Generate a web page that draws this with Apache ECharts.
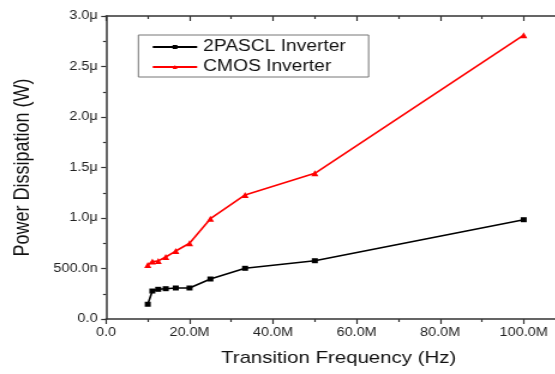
<!DOCTYPE html>
<html>
<head>
<meta charset="utf-8">
<script src="https://cdn.jsdelivr.net/npm/echarts@6/dist/echarts.min.js"></script>
<style>
html, body { margin: 0; padding: 0; width: 555px; height: 374px; overflow: hidden; background: #fff; }
#chart { width: 506px; height: 374px; transform: scaleX(1.2); transform-origin: 0 0; }
</style>
</head>
<body>
<div id="chart"></div>
<script>
// Transition frequency in MHz
const freqMHz = [10, 11.1, 12.5, 14.3, 16.7, 20, 25, 33.3, 50, 100];
// Power dissipation in microwatts
const pasclPower = [0.146, 0.277, 0.294, 0.300, 0.307, 0.307, 0.396, 0.502, 0.577, 0.983];
const cmosPower = [0.535, 0.570, 0.575, 0.614, 0.673, 0.750, 0.993, 1.228, 1.443, 2.81];
const seriesNames = ['2PASCL Inverter', 'CMOS Inverter'];
const xTitle = 'Transition Frequency (Hz)';
const yTitle = 'Power Dissipation (W)';

const font = 'Liberation Sans, Arial, sans-serif';
const axisColor = '#333';

function fmtX(v) { return v === 0 ? '0.0' : v.toFixed(1) + 'M'; }
function fmtY(v) {
  if (v === 0) return '0.0';
  if (v < 1) return (v * 1000).toFixed(1) + 'n';
  return v.toFixed(1) + 'μ';
}

const chart = echarts.init(document.getElementById('chart'));
chart.setOption({
  animation: false,
  backgroundColor: '#fff',
  grid: { left: 88.3, right: 0, top: 16, bottom: 55 },
  legend: {
    orient: 'vertical',
    left: 115.3,
    top: 35,
    padding: [2, 19, 0, 11],
    itemWidth: 37,
    itemHeight: 5,
    itemGap: 0,
    borderColor: '#777',
    borderWidth: 1,
    textStyle: { fontFamily: font, fontSize: 16, color: '#111', lineHeight: 20 },
    data: seriesNames
  },
  xAxis: [{
    type: 'value', min: 0, max: 120, interval: 20,
    name: xTitle, nameLocation: 'middle', nameGap: 31,
    nameTextStyle: { fontFamily: font, fontSize: 17, color: '#111', padding: [0, 30, 0, 0] },
    axisLine: { show: true, onZero: false, lineStyle: { color: axisColor, width: 1.5 } },
    axisTick: { show: true, length: 5, lineStyle: { color: axisColor, width: 1.2 } },
    minorTick: { show: true, splitNumber: 2, length: 3, lineStyle: { color: axisColor, width: 1.2 } },
    splitLine: { show: false },
    axisLabel: { fontFamily: font, fontSize: 12, color: '#222', margin: 8, formatter: fmtX, showMaxLabel: false }
  }, {
    type: 'value', min: 0, max: 120, interval: 20, position: 'top',
    axisLine: { show: true, onZero: false, lineStyle: { color: axisColor, width: 1.5 } },
    axisTick: { show: true, inside: true, length: 5, lineStyle: { color: axisColor, width: 1.2 } },
    minorTick: { show: true, splitNumber: 2, length: 3, lineStyle: { color: axisColor, width: 1.2 } },
    splitLine: { show: false },
    axisLabel: { show: false }
  }],
  yAxis: {
    type: 'value', min: 0, max: 3, interval: 0.5,
    name: yTitle, nameLocation: 'middle', nameGap: 60, nameRotate: 90,
    nameTextStyle: { fontFamily: font, fontSize: 18, color: '#111' },
    axisLine: { show: true, onZero: false, lineStyle: { color: axisColor, width: 1.5 } },
    axisTick: { show: true, length: 4, lineStyle: { color: axisColor, width: 1.2 } },
    minorTick: { show: true, splitNumber: 2, length: 2.5, lineStyle: { color: axisColor, width: 1.2 } },
    splitLine: { show: false },
    axisLabel: { fontFamily: font, fontSize: 12, color: '#222', margin: 7, formatter: fmtY }
  },
  series: [{
    name: seriesNames[0], type: 'line',
    data: freqMHz.map((f, i) => [f, pasclPower[i]]),
    symbol: 'rect', symbolSize: 5,
    lineStyle: { color: '#000', width: 1.6 },
    itemStyle: { color: '#000' }
  }, {
    name: seriesNames[1], type: 'line',
    data: freqMHz.map((f, i) => [f, cmosPower[i]]),
    symbol: 'triangle', symbolSize: 6,
    lineStyle: { color: '#ff0000', width: 1.6 },
    itemStyle: { color: '#ff0000' }
  }]
});
</script>
</body>
</html>
